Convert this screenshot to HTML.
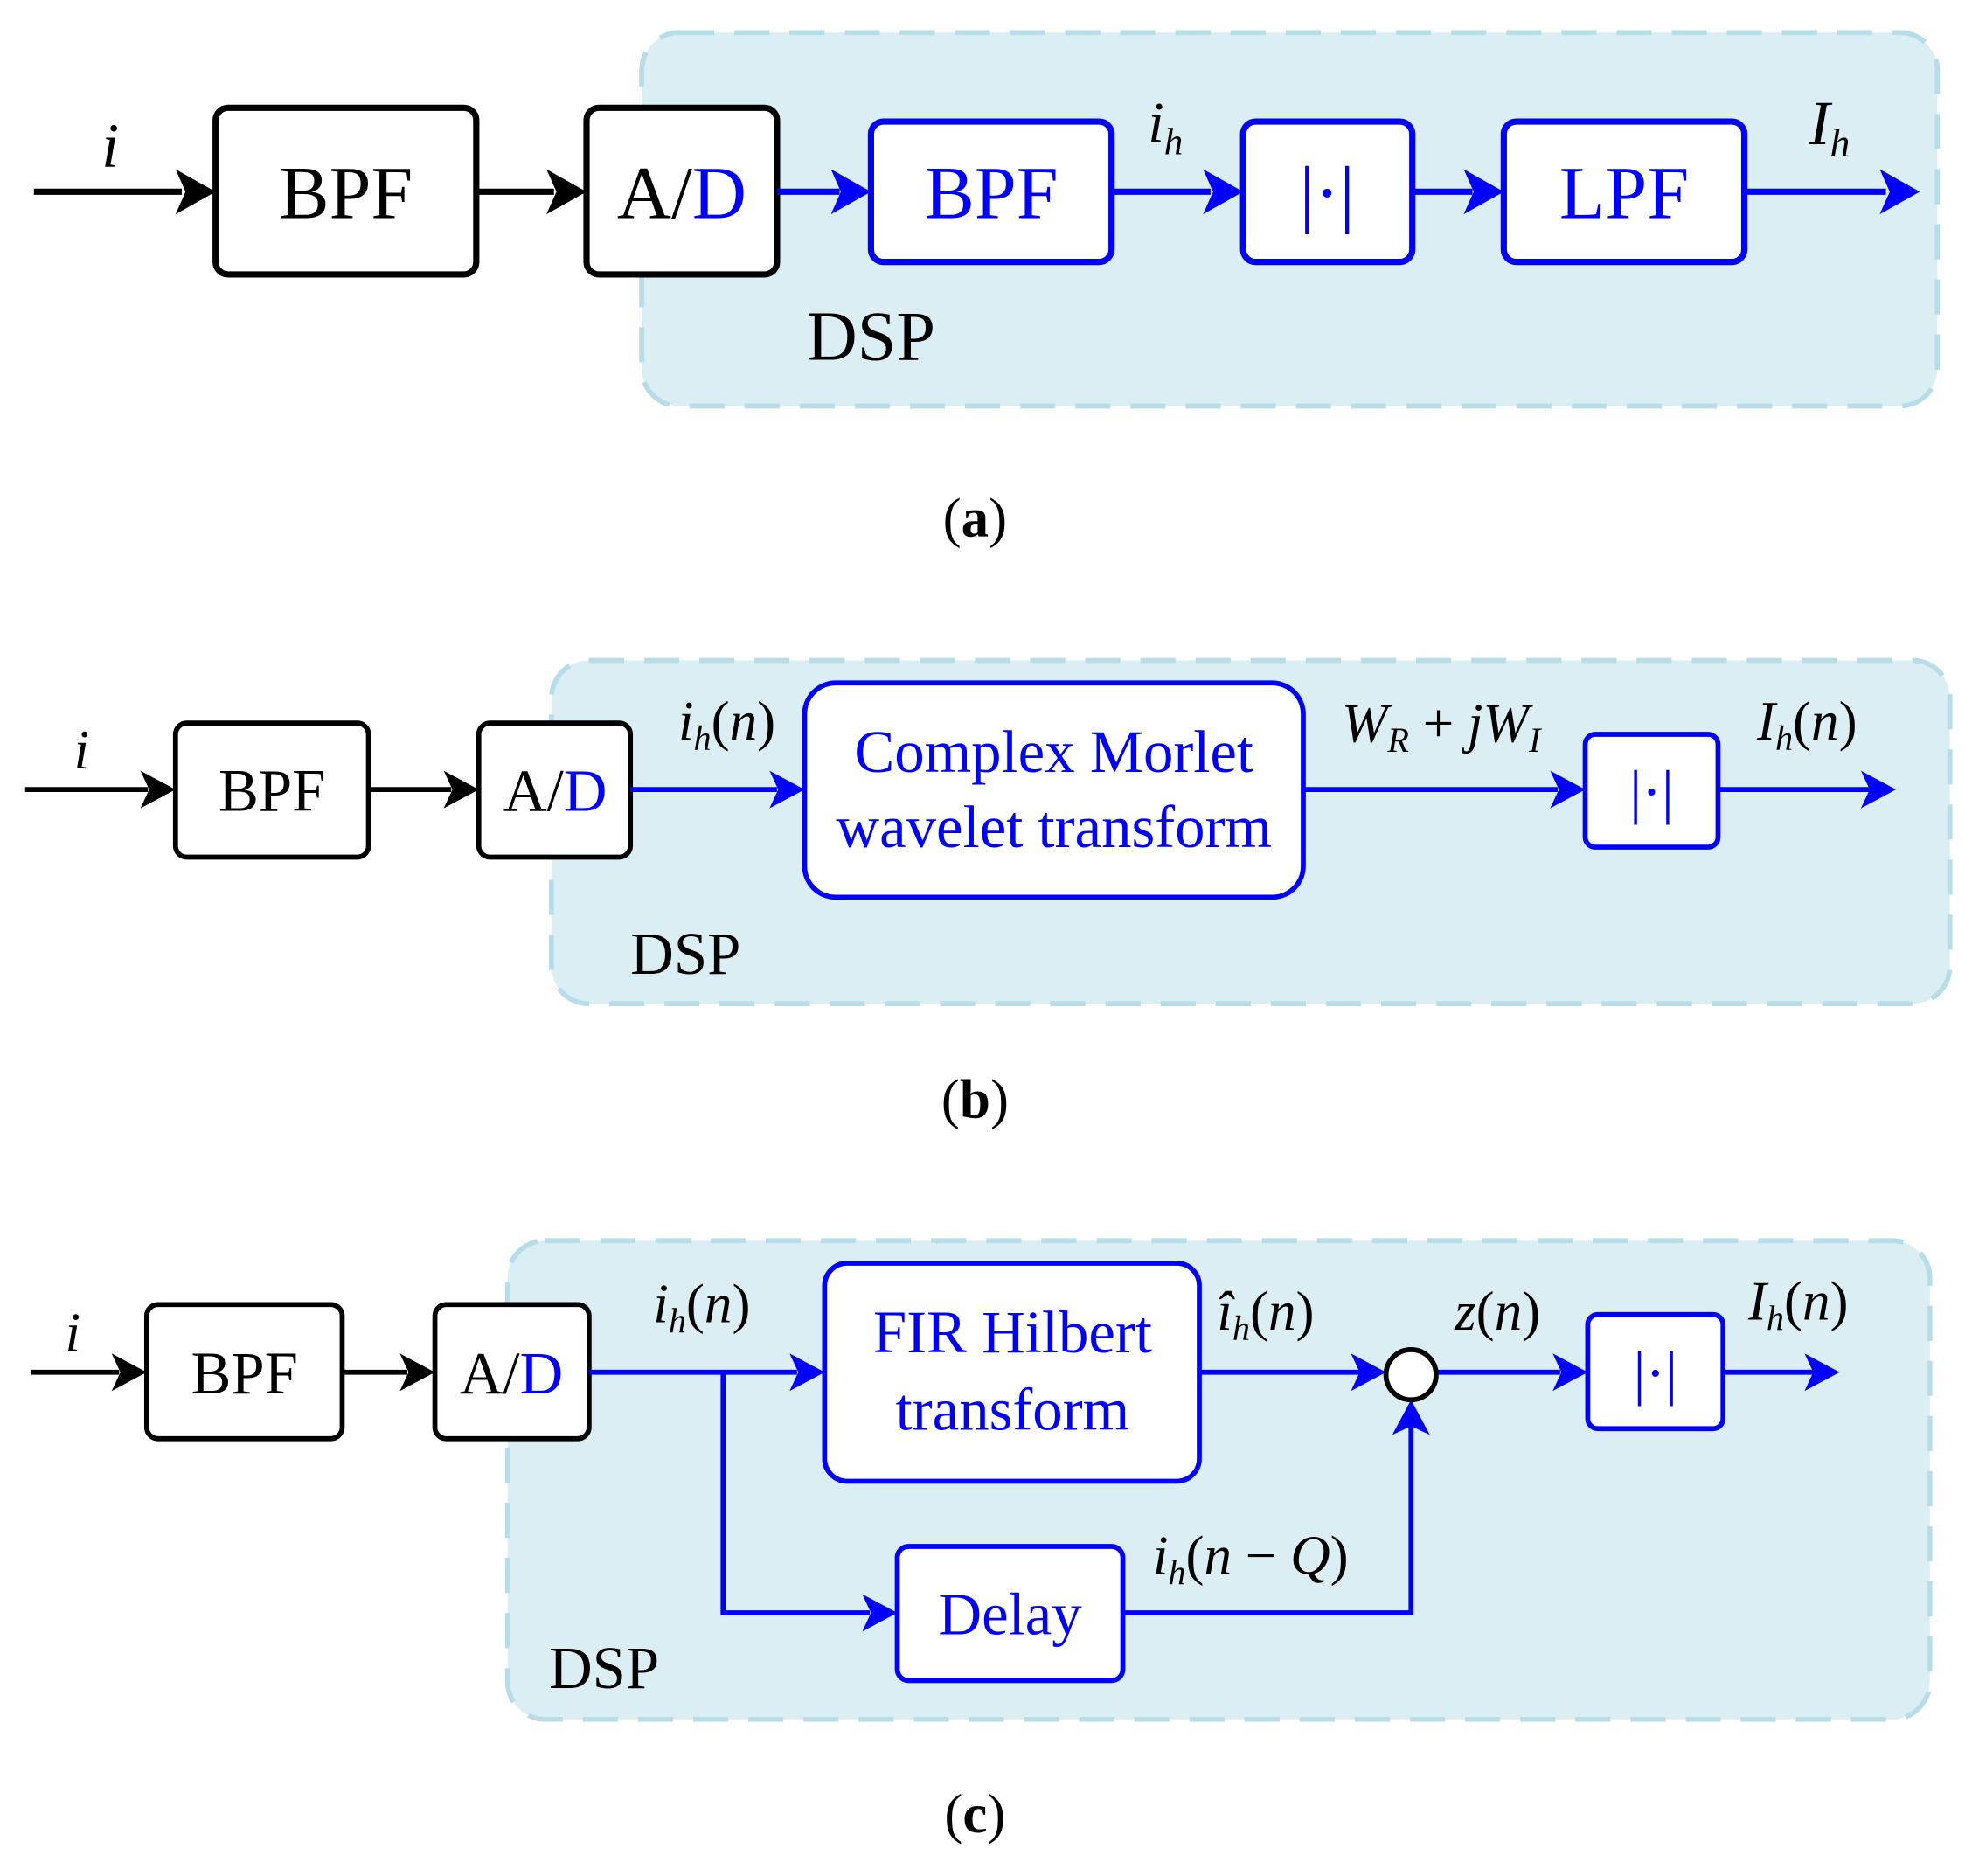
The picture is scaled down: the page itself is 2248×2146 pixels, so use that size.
<!DOCTYPE html>
<html><head><meta charset="utf-8"><style>
html,body{margin:0;padding:0;background:#fff}
svg{display:block}
text{font-family:"Liberation Serif",serif}
.b{fill:#0000ff}
.it{font-style:italic}
</style></head><body>
<svg width="2248" height="2146" viewBox="0 0 1568 1497" xmlns="http://www.w3.org/2000/svg">
<defs>
<marker id="ak" markerWidth="10" markerHeight="10" refX="9" refY="5" orient="auto" markerUnits="userSpaceOnUse" viewBox="0 0 10 10" style="overflow:visible">
</marker>
</defs>
<g fill="#daeef3" stroke="#b7dde8" stroke-width="4" stroke-dasharray="28,16">
<rect x="512" y="26" width="1034" height="298" rx="30"/>
<rect x="440" y="527" width="1116" height="274" rx="30"/>
<rect x="405" y="990" width="1135" height="382" rx="30"/>
</g>

<!-- (a) -->
<g stroke="#000" stroke-width="5" fill="none">
<line x1="27" y1="153" x2="145" y2="153"/>
<line x1="380" y1="153" x2="442" y2="153"/>
</g>
<g fill="#000">
<polygon points="172,153 140,135 148,153 140,171"/>
<polygon points="468,153 436,135 444,153 436,171"/>
</g>
<g stroke="#000" stroke-width="5" fill="#fff">
<rect x="172" y="86" width="208" height="133" rx="10"/>
<rect x="468" y="86" width="152" height="133" rx="10"/>
</g>
<g stroke="#0000ff" stroke-width="5" fill="none">
<line x1="620" y1="153" x2="670" y2="153"/>
<line x1="887" y1="153" x2="966" y2="153"/>
<line x1="1127" y1="153" x2="1175" y2="153"/>
<line x1="1392" y1="153" x2="1505" y2="153"/>
</g>
<g fill="#0000ff">
<polygon points="695,153 663,135 671,153 663,171"/>
<polygon points="992,153 960,135 968,153 960,171"/>
<polygon points="1200,153 1168,135 1176,153 1168,171"/>
<polygon points="1532,153 1500,135 1508,153 1500,171"/>
</g>
<g stroke="#0000ff" stroke-width="5" fill="#fff">
<rect x="695" y="97" width="192" height="112" rx="10"/>
<rect x="992" y="97" width="135" height="112" rx="10"/>
<rect x="1200" y="97" width="192" height="112" rx="10"/>
</g>
<g font-size="60" text-anchor="middle">
<text x="276" y="174">BPF</text>
<text x="544" y="174">A/<tspan class="b">D</tspan></text>
<text x="791" y="174" class="b">BPF</text>
<text x="1059" y="174" class="b">|·|</text>
<text x="1296" y="174" class="b">LPF</text>
<text x="695" y="287" font-size="56">DSP</text>
<text x="88" y="133" class="it" font-size="50">i</text>
<text x="930" y="113" class="it" font-size="46">i<tspan font-size="30" dy="10">h</tspan></text>
<text x="1460" y="115" class="it" font-size="50">I<tspan font-size="32" dy="10">h</tspan></text>
<text x="778" y="428" font-size="44">(<tspan font-weight="bold">a</tspan>)</text>
</g>

<!-- (b) -->
<g stroke="#000" stroke-width="4" fill="none">
<line x1="20" y1="630" x2="118" y2="630"/>
<line x1="294" y1="630" x2="360" y2="630"/>
</g>
<g fill="#000">
<polygon points="140,630 112,615 119,630 112,645"/>
<polygon points="382,630 354,615 361,630 354,645"/>
</g>
<g stroke="#000" stroke-width="4" fill="#fff">
<rect x="140" y="577" width="154" height="107" rx="9"/>
<rect x="382" y="577" width="121" height="107" rx="9"/>
</g>
<g stroke="#0000ff" stroke-width="4" fill="none">
<line x1="503" y1="630" x2="620" y2="630"/>
<line x1="1040" y1="630" x2="1243" y2="630"/>
<line x1="1371" y1="630" x2="1492" y2="630"/>
</g>
<g fill="#0000ff">
<polygon points="642,630 614,615 621,630 614,645"/>
<polygon points="1265,630 1237,615 1244,630 1237,645"/>
<polygon points="1513,630 1485,615 1492,630 1485,645"/>
</g>
<g stroke="#0000ff" stroke-width="4" fill="#fff">
<rect x="642" y="545" width="398" height="171" rx="25"/>
<rect x="1265" y="586" width="106" height="90" rx="8"/>
</g>
<g font-size="48" text-anchor="middle">
<text x="217" y="647">BPF</text>
<text x="443" y="647">A/<tspan class="b">D</tspan></text>
<text x="841" y="616" class="b">Complex Morlet</text>
<text x="841" y="676" class="b">wavelet transform</text>
<text x="1318" y="648" class="b">|·|</text>
<text x="547" y="777">DSP</text>
<text x="65" y="613" class="it" font-size="44">i</text>
<text x="580" y="590" class="it" font-size="44">i<tspan font-size="28" dy="8">h</tspan><tspan dy="-8" font-style="normal">(</tspan>n<tspan font-style="normal">)</tspan></text>
<text x="1150" y="592" class="it" font-size="44">W<tspan font-size="28" dy="8">R</tspan><tspan dy="-8" font-style="normal"> + </tspan>jW<tspan font-size="28" dy="8">I</tspan></text>
<text x="1442" y="590" class="it" font-size="44">I<tspan font-size="28" dy="8">h</tspan><tspan dy="-8" font-style="normal">(</tspan>n<tspan font-style="normal">)</tspan></text>
<text x="778" y="892" font-size="44">(<tspan font-weight="bold">b</tspan>)</text>
</g>

<!-- (c) -->
<g stroke="#000" stroke-width="4" fill="none">
<line x1="25" y1="1095" x2="95" y2="1095"/>
<line x1="273" y1="1095" x2="325" y2="1095"/>
</g>
<g fill="#000">
<polygon points="117,1095 89,1080 96,1095 89,1110"/>
<polygon points="347,1095 319,1080 326,1095 319,1110"/>
</g>
<g stroke="#000" stroke-width="4" fill="#fff">
<rect x="117" y="1041" width="156" height="107" rx="9"/>
<rect x="347" y="1041" width="123" height="107" rx="9"/>
</g>
<g stroke="#0000ff" stroke-width="4" fill="none">
<line x1="470" y1="1095" x2="636" y2="1095"/>
<polyline points="577,1095 577,1287 694,1287"/>
<line x1="957" y1="1095" x2="1085" y2="1095"/>
<polyline points="896,1287 1126,1287 1126,1138"/>
<line x1="1146" y1="1095" x2="1245" y2="1095"/>
<line x1="1375" y1="1095" x2="1447" y2="1095"/>
</g>
<g fill="#0000ff">
<polygon points="658,1095 630,1080 637,1095 630,1110"/>
<polygon points="716,1287 688,1272 695,1287 688,1302"/>
<polygon points="1106,1095 1078,1080 1085,1095 1078,1110"/>
<polygon points="1126,1117 1111,1145 1126,1138 1141,1145"/>
<polygon points="1267,1095 1239,1080 1246,1095 1239,1110"/>
<polygon points="1468,1095 1440,1080 1447,1095 1440,1110"/>
</g>
<g stroke="#0000ff" stroke-width="4" fill="#fff">
<rect x="658" y="1008" width="299" height="174" rx="18"/>
<rect x="716" y="1234" width="180" height="107" rx="9"/>
<rect x="1267" y="1049" width="108" height="91" rx="8"/>
</g>
<circle cx="1126" cy="1097" r="20" fill="#fff" stroke="#000" stroke-width="4"/>
<g font-size="48" text-anchor="middle">
<text x="195" y="1112">BPF</text>
<text x="408" y="1112">A/<tspan class="b">D</tspan></text>
<text x="808" y="1079" class="b">FIR Hilbert</text>
<text x="808" y="1141" class="b">transform</text>
<text x="806" y="1304" class="b">Delay</text>
<text x="1321" y="1112" class="b">|·|</text>
<text x="482" y="1347">DSP</text>
<text x="58" y="1078" class="it" font-size="44">i</text>
<text x="560" y="1055" class="it" font-size="44">i<tspan font-size="28" dy="8">h</tspan><tspan dy="-8" font-style="normal">(</tspan>n<tspan font-style="normal">)</tspan></text>
<text x="1010" y="1061" class="it" font-size="44">î<tspan font-size="28" dy="8">h</tspan><tspan dy="-8" font-style="normal">(</tspan>n<tspan font-style="normal">)</tspan></text>
<text x="1195" y="1061" class="it" font-size="44">z<tspan font-style="normal">(</tspan>n<tspan font-style="normal">)</tspan></text>
<text x="1435" y="1053" class="it" font-size="44">I<tspan font-size="28" dy="8">h</tspan><tspan dy="-8" font-style="normal">(</tspan>n<tspan font-style="normal">)</tspan></text>
<text x="998" y="1256" class="it" font-size="44">i<tspan font-size="28" dy="8">h</tspan><tspan dy="-8" font-style="normal">(</tspan>n<tspan font-style="normal"> − </tspan>Q<tspan font-style="normal">)</tspan></text>
<text x="778" y="1462" font-size="44">(<tspan font-weight="bold">c</tspan>)</text>
</g>
</svg>
</body></html>
